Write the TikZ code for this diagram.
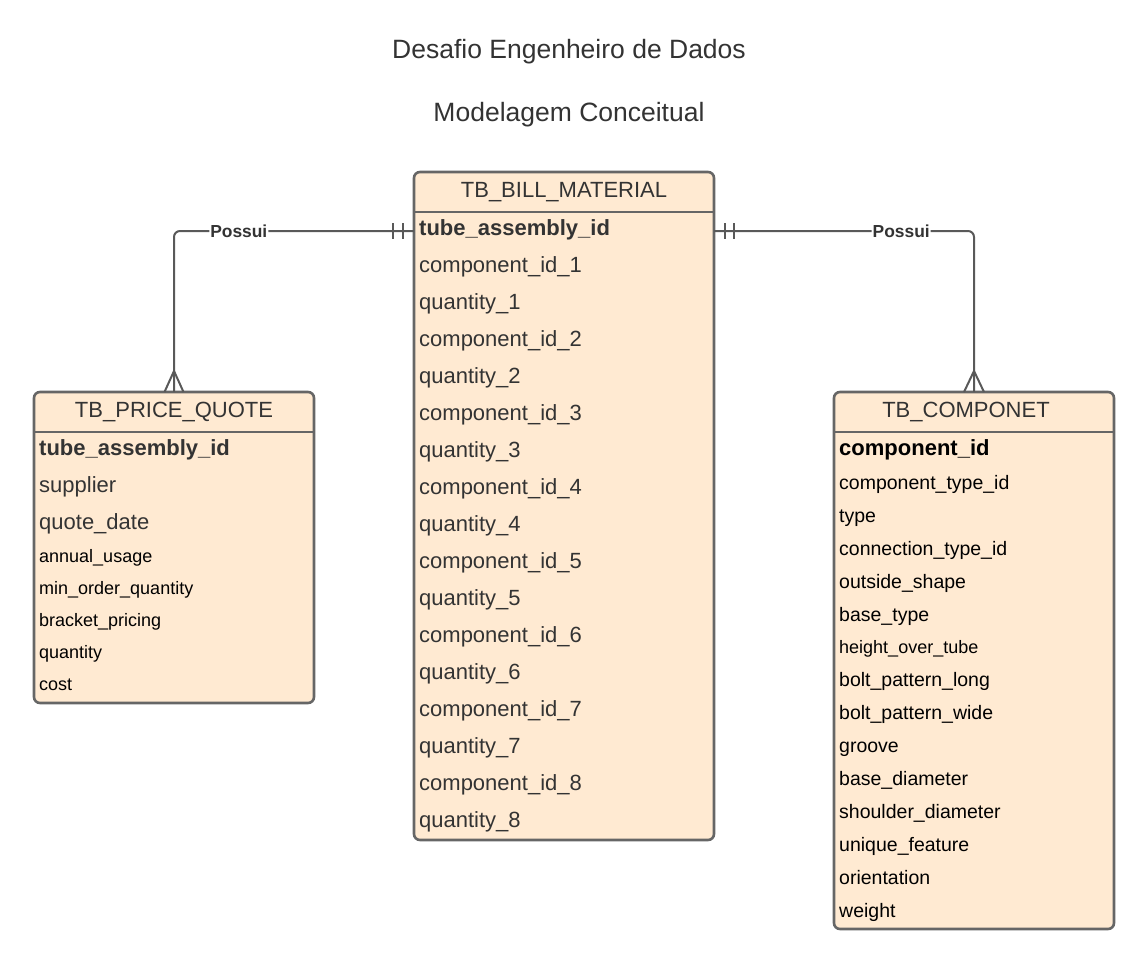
\documentclass[tikz,border=0pt]{standalone}
\usepackage{fontspec}
\setmainfont{Liberation Sans}
\usetikzlibrary{positioning}

\definecolor{boxfill}{RGB}{255,234,210}
\definecolor{boxline}{RGB}{102,102,102}
\definecolor{relline}{RGB}{89,89,89}
\definecolor{txtgray}{RGB}{51,51,51}

\begin{document}
\begin{tikzpicture} [
    x=1pt, y=-1pt,
    title/.style    = { text=txtgray, font=\fontsize{26.5}{30}\selectfont,
                        anchor=base, inner sep=0pt },
    table/.style    = { rectangle, draw=boxline, fill=boxfill, line width=2.6pt,
                        rounded corners=6pt, anchor=north west, inner sep=0pt,
                        outer sep=0pt },
    sep/.style      = { draw=boxline, line width=2.6pt },
    head/.style     = { text=txtgray, font=\fontsize{22}{26}\selectfont,
                        anchor=base, inner sep=0pt },
    field/.style    = { anchor=base west, inner sep=0pt, text=txtgray,
                        font=\fontsize{22}{26}\selectfont },
    pkey/.style     = { field, font=\fontsize{22}{26}\selectfont\bfseries },
    small/.style    = { field, text=black, font=\fontsize{18}{21}\selectfont },
    mid/.style      = { field, text=black, font=\fontsize{19.5}{23}\selectfont },
    line/.style     = { draw=relline, line width=2pt },
    rel/.style      = { line, rounded corners=6pt },
    label/.style    = { fill=white, inner sep=1pt, text=txtgray,
                        font=\fontsize{17.4}{20}\selectfont\bfseries },
  ]

  \useasboundingbox (0,0) rectangle (1148,967);

  % Titles
  \node[title] (title1) at (569,58) {Desafio Engenheiro de Dados};
  \node[title] (title2) at (569,121) {Modelagem Conceitual};

  % Define the tables
  \node[table, minimum width=300pt, minimum height=668pt] (bill) at (414,172) {};
  \node[table, minimum width=280pt, minimum height=311pt] (price) at (34,392) {};
  \node[table, minimum width=280pt, minimum height=537pt] (compo) at (834,392) {};

  \path[sep] ([yshift=-40pt]bill.north west) -- ([yshift=-40pt]bill.north east);
  \path[sep] ([yshift=-40pt]price.north west) -- ([yshift=-40pt]price.north east);
  \path[sep] ([yshift=-40pt]compo.north west) -- ([yshift=-40pt]compo.north east);

  \node[head] (billhead) at (564,197) {TB\_BILL\_MATERIAL};
  \node[head] (pricehead) at (174,417) {TB\_PRICE\_QUOTE};
  \node[head] (compohead) at (966,417) {TB\_COMPONET};

  % TB_BILL_MATERIAL fields
  \node[pkey]  (bill1)  at (419,235) {tube\_assembly\_id};
  \node[field] (bill2)  at (419,272) {component\_id\_1};
  \node[field] (bill3)  at (419,309) {quantity\_1};
  \node[field] (bill4)  at (419,346) {component\_id\_2};
  \node[field] (bill5)  at (419,383) {quantity\_2};
  \node[field] (bill6)  at (419,420) {component\_id\_3};
  \node[field] (bill7)  at (419,457) {quantity\_3};
  \node[field] (bill8)  at (419,494) {component\_id\_4};
  \node[field] (bill9)  at (419,531) {quantity\_4};
  \node[field] (bill10) at (419,568) {component\_id\_5};
  \node[field] (bill11) at (419,605) {quantity\_5};
  \node[field] (bill12) at (419,642) {component\_id\_6};
  \node[field] (bill13) at (419,679) {quantity\_6};
  \node[field] (bill14) at (419,716) {component\_id\_7};
  \node[field] (bill15) at (419,753) {quantity\_7};
  \node[field] (bill16) at (419,790) {component\_id\_8};
  \node[field] (bill17) at (419,827) {quantity\_8};

  % TB_PRICE_QUOTE fields
  \node[pkey]  (price1) at (39,455) {tube\_assembly\_id};
  \node[field] (price2) at (39,492) {supplier};
  \node[field] (price3) at (39,529) {quote\_date};
  \node[small] (price4) at (39,562) {annual\_usage};
  \node[small] (price5) at (39,594) {min\_order\_quantity};
  \node[small] (price6) at (39,626) {bracket\_pricing};
  \node[small] (price7) at (39,658) {quantity};
  \node[small] (price8) at (39,690) {cost};

  % TB_COMPONET fields
  \node[pkey, text=black] (compo1) at (839,455) {component\_id};
  \node[mid]   (compo2)  at (839,489) {component\_type\_id};
  \node[mid]   (compo3)  at (839,522) {type};
  \node[mid]   (compo4)  at (839,555) {connection\_type\_id};
  \node[mid]   (compo5)  at (839,588) {outside\_shape};
  \node[mid]   (compo6)  at (839,621) {base\_type};
  \node[small] (compo7)  at (839,653) {height\_over\_tube};
  \node[mid]   (compo8)  at (839,686) {bolt\_pattern\_long};
  \node[mid]   (compo9)  at (839,719) {bolt\_pattern\_wide};
  \node[mid]   (compo10) at (839,752) {groove};
  \node[mid]   (compo11) at (839,785) {base\_diameter};
  \node[mid]   (compo12) at (839,818) {shoulder\_diameter};
  \node[mid]   (compo13) at (839,851) {unique\_feature};
  \node[mid]   (compo14) at (839,884) {orientation};
  \node[mid]   (compo15) at (839,917) {weight};

  % connect the tables
  \path[rel] ([yshift=-59pt]bill.north west) -| node[pos=0.365, label]{Possui} (price.north);
  \path[rel] ([yshift=-59pt]bill.north east) -| node[pos=0.36, label]{Possui} (compo.north);

  % one side (bars)
  \path[line] ([xshift=-21pt,yshift=-51pt]bill.north west) -- ([xshift=-21pt,yshift=-67pt]bill.north west);
  \path[line] ([xshift=-11pt,yshift=-51pt]bill.north west) -- ([xshift=-11pt,yshift=-67pt]bill.north west);
  \path[line] ([xshift=11pt,yshift=-51pt]bill.north east) -- ([xshift=11pt,yshift=-67pt]bill.north east);
  \path[line] ([xshift=20pt,yshift=-51pt]bill.north east) -- ([xshift=20pt,yshift=-67pt]bill.north east);

  % many side (crow's feet)
  \path[line] ([xshift=-9.5pt]price.north) -- ([yshift=21pt]price.north) -- ([xshift=9.5pt]price.north);
  \path[line] ([xshift=-10pt]compo.north) -- ([yshift=21pt]compo.north) -- ([xshift=10pt]compo.north);
\end{tikzpicture}
\end{document}
